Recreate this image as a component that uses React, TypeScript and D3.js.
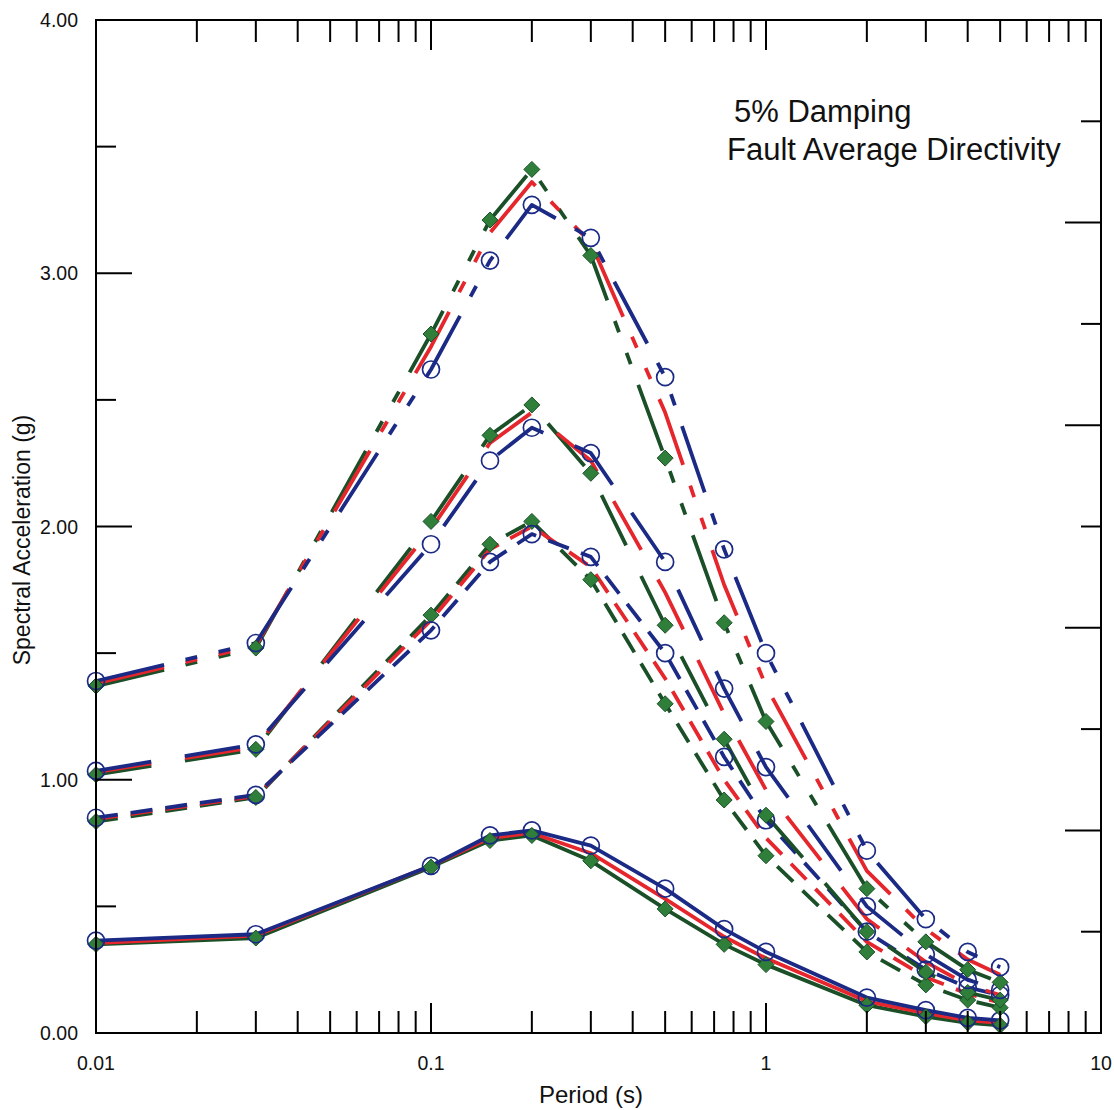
import React from 'react';
import * as d3 from 'd3';

// Periods (s)
const periods = [0.01, 0.03, 0.1, 0.15, 0.2, 0.3, 0.5, 0.75, 1, 2, 3, 4, 5];

// Group A (solid)
const blueA = [0.365, 0.39, 0.66, 0.78, 0.8, 0.74, 0.57, 0.41, 0.32, 0.14, 0.09, 0.06, 0.05];
const redA = [0.355, 0.385, 0.66, 0.77, 0.79, 0.71, 0.53, 0.38, 0.295, 0.125, 0.078, 0.05, 0.04];
const greenA = [0.35, 0.375, 0.655, 0.76, 0.78, 0.68, 0.49, 0.35, 0.27, 0.11, 0.065, 0.04, 0.03];

// Group B (short dash)
const blueB = [0.85, 0.94, 1.59, 1.86, 1.97, 1.88, 1.5, 1.09, 0.84, 0.4, 0.25, 0.18, 0.15];
const redB = [0.845, 0.935, 1.63, 1.91, 2.0, 1.84, 1.4, 1.0, 0.77, 0.36, 0.22, 0.155, 0.12];
const greenB = [0.835, 0.93, 1.65, 1.93, 2.02, 1.79, 1.3, 0.92, 0.7, 0.32, 0.19, 0.13, 0.1];

// Group C (long dash)
const blueC = [1.035, 1.14, 1.93, 2.26, 2.39, 2.29, 1.86, 1.36, 1.05, 0.5, 0.31, 0.21, 0.17];
const redC = [1.03, 1.13, 1.99, 2.33, 2.45, 2.26, 1.74, 1.26, 0.96, 0.45, 0.28, 0.19, 0.15];
const greenC = [1.02, 1.12, 2.02, 2.36, 2.48, 2.21, 1.61, 1.16, 0.86, 0.4, 0.24, 0.16, 0.13];

// Group D (long-short-short dash)
const blueD = [1.39, 1.54, 2.62, 3.05, 3.27, 3.14, 2.59, 1.91, 1.5, 0.72, 0.45, 0.32, 0.26];
const redD = [1.38, 1.53, 2.71, 3.16, 3.36, 3.12, 2.45, 1.77, 1.37, 0.64, 0.41, 0.29, 0.23];
const greenD = [1.37, 1.52, 2.76, 3.21, 3.41, 3.07, 2.27, 1.62, 1.23, 0.57, 0.36, 0.25, 0.2];

const yTickLabels = ['0.00', '1.00', '2.00', '3.00', '4.00'];
const xTickLabels = ['0.01', '0.1', '1', '10'];

const groups = [
  { dash: 'none', blue: blueA, red: redA, green: greenA },
  { dash: '22,13', blue: blueB, red: redB, green: greenB },
  { dash: '56,34', blue: blueC, red: redC, green: greenC },
  { dash: '70,22,12,22,12,22', blue: blueD, red: redD, green: greenD },
];

const BLUE = '#1b2a85';
const RED = '#e5262c';
const GREEN = '#1a4f27';
const DIAMOND = '#2f7f3b';
const FONT = 'Arial, "Liberation Sans", Helvetica, sans-serif';

const W = 1114;
const H = 1110;
const L = 96;
const R = 1101;
const T = 20;
const B = 1033;

export default function App() {
  const x = d3.scaleLog().domain([0.01, 10]).range([L, R]);
  const y = d3.scaleLinear().domain([0, 4]).range([B, T]);

  const line = d3
    .line<[number, number]>()
    .x((d) => x(d[0]))
    .y((d) => y(d[1]));

  const pts = (vals: number[]) => periods.map((p, i) => [p, vals[i]] as [number, number]);

  const xMinor: { v: number; major: boolean }[] = [];
  [0.01, 0.1, 1].forEach((dec) => {
    for (let m = 1; m <= 9; m++) {
      const v = dec * m;
      if (v <= 0.01) continue;
      xMinor.push({ v, major: m === 1 });
    }
  });

  const leftTicks = [0.5, 1, 1.5, 2, 2.5, 3, 3.5];
  const rightTicks = [0.4, 0.8, 1.2, 1.6, 2.0, 2.4, 2.8, 3.2, 3.6];

  const diamond = (cx: number, cy: number, r: number) =>
    `M${cx},${cy - r}L${cx + r},${cy}L${cx},${cy + r}L${cx - r},${cy}Z`;

  return (
    <div style={{ position: 'absolute', left: 0, top: 0 }}>
      <svg width={W} height={H} style={{ display: 'block', background: '#fff' }}>
        <rect x={0} y={0} width={W} height={H} fill="#fff" />
        {groups.map((g, gi) => (
          <g key={'l' + gi} fill="none" strokeWidth={3.8} strokeLinecap="butt" strokeLinejoin="round">
            <path d={line(pts(g.green)) || ''} stroke={GREEN} strokeDasharray={g.dash} />
            <path d={line(pts(g.red)) || ''} stroke={RED} strokeDasharray={g.dash} />
            <path d={line(pts(g.blue)) || ''} stroke={BLUE} strokeDasharray={g.dash} />
          </g>
        ))}
        {groups.map((g, gi) => (
          <g key={'m' + gi}>
            {pts(g.green).map((d, i) => (
              <path key={'d' + i} d={diamond(x(d[0]), y(d[1]), 8)} fill={DIAMOND} stroke={GREEN} strokeWidth={1} />
            ))}
            {pts(g.blue).map((d, i) => (
              <circle key={'c' + i} cx={x(d[0])} cy={y(d[1])} r={8.5} fill="none" stroke={BLUE} strokeWidth={1.7} />
            ))}
          </g>
        ))}
        <rect x={L} y={T} width={R - L} height={B - T} fill="none" stroke="#000" strokeWidth={2} />
        {xMinor.map((t, i) => {
          const len = t.major ? 30 : 22;
          const xx = x(t.v);
          return (
            <g key={'xt' + i} stroke="#000" strokeWidth={2}>
              <line x1={xx} x2={xx} y1={B} y2={B - len} />
              <line x1={xx} x2={xx} y1={T} y2={T + len} />
            </g>
          );
        })}
        {leftTicks.map((v, i) => {
          const major = Math.abs(v - Math.round(v)) < 1e-6;
          return (
            <line key={'ly' + i} x1={L} x2={L + (major ? 36 : 20)} y1={y(v)} y2={y(v)} stroke="#000" strokeWidth={2} />
          );
        })}
        {rightTicks.map((v, i) => {
          const long = Math.abs(v / 0.8 - Math.round(v / 0.8)) < 1e-6;
          return (
            <line key={'ry' + i} x1={R} x2={R - (long ? 36 : 20)} y1={y(v)} y2={y(v)} stroke="#000" strokeWidth={2} />
          );
        })}
        {yTickLabels.map((lab, i) => (
          <text key={'yl' + i} x={78} y={y(i) + 7} textAnchor="end" fontFamily={FONT} fontSize={19.5} fill="#111">
            {lab}
          </text>
        ))}
        {xTickLabels.map((lab) => (
          <text key={'xl' + lab} x={x(+lab)} y={1070} textAnchor="middle" fontFamily={FONT} fontSize={19.5} fill="#111">
            {lab}
          </text>
        ))}
        <text x={591} y={1103} textAnchor="middle" fontFamily={FONT} fontSize={24} fill="#111">
          Period (s)
        </text>
        <text
          transform={`translate(30,${540}) rotate(-90)`}
          textAnchor="middle"
          fontFamily={FONT}
          fontSize={23}
          fill="#111"
        >
          Spectral Acceleration (g)
        </text>
        <text x={734} y={122} fontFamily={FONT} fontSize={31} fill="#111">
          5% Damping
        </text>
        <text x={727} y={160} fontFamily={FONT} fontSize={31} fill="#111">
          Fault Average Directivity
        </text>
      </svg>
    </div>
  );
}
